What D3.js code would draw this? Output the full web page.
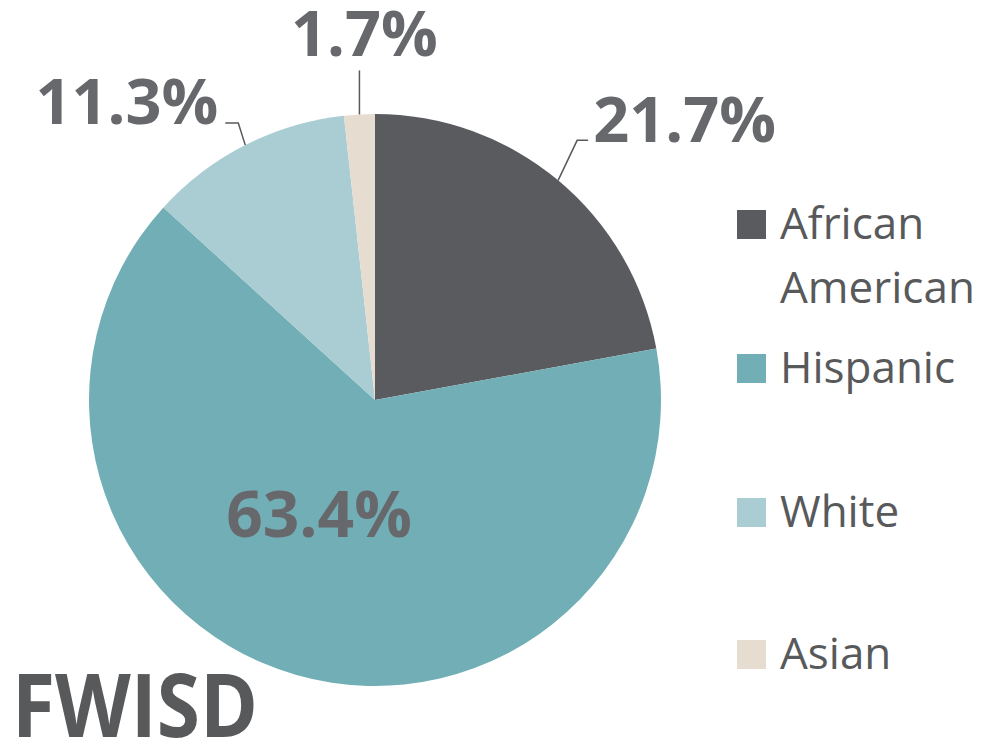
<!DOCTYPE html>
<html><head><meta charset="utf-8">
<script src="https://cdn.jsdelivr.net/npm/d3@7"></script>
<style>body{margin:0;background:#fff}svg{display:block}</style>
</head><body>
<script>
const categories = ["African American", "Hispanic", "White", "Asian"];
const values = [21.7, 63.4, 11.3, 1.7];
const labels = ["21.7%", "63.4%", "11.3%", "1.7%"];
const colors = ["#5a5b5f", "#72aeb5", "#a9cdd3", "#e6ddd0"];
const title = "FWISD";

const W = 982, H = 740;
const cx = 375, cy = 400, R = 286;
const textColor = "#67686c";

const svg = d3.select("body").append("svg").attr("width", W).attr("height", H);
const g = svg.append("g").attr("transform", `translate(${cx},${cy})`);

const pie = d3.pie().sort(null).value(d => d);
const arcs = pie(values);
const arc = d3.arc().innerRadius(0).outerRadius(R);

g.selectAll("path").data(arcs).enter().append("path")
  .attr("d", arc).attr("fill", (d, i) => colors[i]);

// label layout (style/position, not data)
const layout = [
  {type: "leader", bend: [19, -40], end: [30, -40], anchor: "start", tdx: 5, tdy: 2},
  {type: "inside", pos: [-56, 137], anchor: "middle"},
  {type: "leader", bend: [-7, -22], end: [-20, -22], anchor: "end", tdx: -7, tdy: 1},
  {type: "vert", end: [0, -44], anchor: "middle", tdx: 5, tdy: -14}
];

const edge = d => {
  const a = (d.startAngle + d.endAngle) / 2;
  return [R * Math.sin(a), -R * Math.cos(a)];
};

arcs.forEach((d, i) => {
  const L = layout[i];
  const p = edge(d);
  if (L.type === "inside") {
    g.append("text").attr("x", L.pos[0]).attr("y", L.pos[1])
      .attr("text-anchor", "middle").attr("font-family", "Open Sans")
      .attr("font-weight", 700).attr("font-size", 64).attr("fill", textColor)
      .text(labels[i]);
    return;
  }
  let pts;
  if (L.type === "vert") {
    pts = [p, [p[0], p[1] + L.end[1]]];
  } else {
    const b = [p[0] + L.bend[0], p[1] + L.bend[1]];
    pts = [p, b, [p[0] + L.end[0], p[1] + L.end[1]]];
  }
  g.append("path").attr("d", d3.line()(pts)).attr("fill", "none")
    .attr("stroke", "#58595b").attr("stroke-width", 1.5);
  const last = pts[pts.length - 1];
  g.append("text").attr("x", last[0] + L.tdx).attr("y", last[1] + L.tdy)
    .attr("text-anchor", L.anchor).attr("font-family", "Open Sans")
    .attr("font-weight", 700).attr("font-size", 63).attr("fill", textColor)
    .text(labels[i]);
});

// legend
const legY = [239, 383, 527, 669];
const leg = svg.append("g");
categories.forEach((c, i) => {
  leg.append("rect").attr("x", 737).attr("y", legY[i] - 29).attr("width", 29).attr("height", 29)
    .attr("fill", colors[i]);
  const words = c === "African American" ? ["African", "American"] : [c];
  const t = leg.append("text").attr("x", 780).attr("y", legY[i])
    .attr("font-family", "Open Sans").attr("font-size", 44).attr("fill", "#58595b");
  words.forEach((w, j) => t.append("tspan").attr("x", 780).attr("dy", j ? 64 : 0).text(w));
});

svg.append("text").attr("x", 12).attr("y", 737)
  .attr("font-family", "Open Sans").attr("font-weight", 700).attr("font-size", 88)
  .attr("textLength", 246).attr("lengthAdjust", "spacingAndGlyphs")
  .attr("fill", "#58595b").text(title);
</script>
</body></html>
